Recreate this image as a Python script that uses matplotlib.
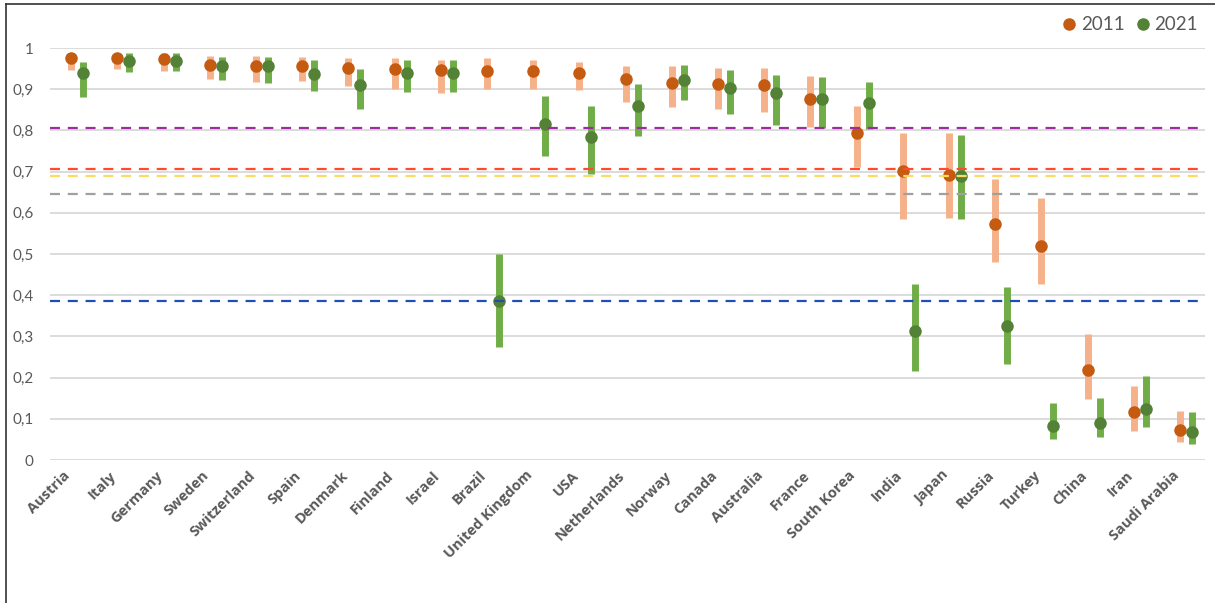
import numpy as np
import matplotlib
matplotlib.use('Agg')
import matplotlib.pyplot as plt
from matplotlib.lines import Line2D

countries = ["Austria", "Italy", "Germany", "Sweden", "Switzerland", "Spain", "Denmark",
             "Finland", "Israel", "Brazil", "United Kingdom", "USA", "Netherlands", "Norway",
             "Canada", "Australia", "France", "South Korea", "India", "Japan", "Russia",
             "Turkey", "China", "Iran", "Saudi Arabia"]

# 2011: punto, minimo, maximo
v2011 = [0.976, 0.975, 0.973, 0.959, 0.957, 0.957, 0.951, 0.948, 0.947, 0.945, 0.944, 0.939, 0.924,
         0.914, 0.913, 0.909, 0.876, 0.794, 0.701, 0.692, 0.572, 0.519, 0.218, 0.116, 0.074]
lo2011 = [0.947, 0.948, 0.944, 0.925, 0.917, 0.920, 0.908, 0.900, 0.890, 0.900, 0.900, 0.898, 0.870,
          0.856, 0.851, 0.844, 0.809, 0.710, 0.584, 0.587, 0.480, 0.427, 0.147, 0.070, 0.044]
hi2011 = [0.988, 0.988, 0.989, 0.981, 0.981, 0.979, 0.975, 0.975, 0.971, 0.975, 0.972, 0.967, 0.956,
          0.956, 0.951, 0.951, 0.932, 0.860, 0.793, 0.793, 0.681, 0.637, 0.305, 0.180, 0.119]

# 2021
v2021 = [0.940, 0.968, 0.968, 0.957, 0.957, 0.938, 0.910, 0.939, 0.939, 0.386, 0.816, 0.783, 0.859,
         0.922, 0.902, 0.890, 0.876, 0.867, 0.313, 0.690, 0.325, 0.083, 0.091, 0.123, 0.068]
lo2021 = [0.881, 0.942, 0.943, 0.922, 0.914, 0.896, 0.851, 0.894, 0.894, 0.275, 0.738, 0.694, 0.786,
          0.874, 0.840, 0.812, 0.807, 0.803, 0.217, 0.585, 0.233, 0.050, 0.057, 0.081, 0.039]
hi2021 = [0.966, 0.987, 0.989, 0.979, 0.979, 0.970, 0.950, 0.972, 0.971, 0.500, 0.883, 0.859, 0.912,
          0.959, 0.947, 0.935, 0.929, 0.918, 0.427, 0.790, 0.421, 0.138, 0.150, 0.204, 0.117]

# lineas de referencia
ref_vals = [0.807, 0.706, 0.689, 0.645, 0.387]
ref_cols = ["#9B2D9F", "#FF4B2B", "#FFD966", "#A0A0A0", "#1F4EB4"]

yticks = [0, 0.1, 0.2, 0.3, 0.4, 0.5, 0.6, 0.7, 0.8, 0.9, 1]
ylabels = ["0", "0,1", "0,2", "0,3", "0,4", "0,5", "0,6", "0,7", "0,8", "0,9", "1"]

x = np.arange(len(countries))
x1 = x - 0.04
x2 = x + 0.22

fig = plt.figure(figsize=(12.15, 6.03), dpi=100)
ax = fig.add_axes([50/1215, 1-460/603, 1155/1215, 412/603])

ax.vlines(x1, lo2011, hi2011, colors="#F5B28A", lw=5, zorder=2)
ax.plot(x1, v2011, 'o', color="#C55A11", ms=8, label="2011", zorder=3)
ax.vlines(x2, lo2021, hi2021, colors="#70AD47", lw=5, zorder=2)
ax.plot(x2, v2021, 'o', color="#538135", ms=8, label="2021", zorder=3)

for val, col in zip(ref_vals, ref_cols):
    ax.axhline(val, color=col, lw=1.6, dashes=(4.5, 3.5), zorder=4)

ax.set_xlim(-0.5, len(countries)-0.5)
ax.set_ylim(0, 1)
ax.set_yticks(yticks)
ax.set_yticklabels(ylabels, fontsize=11, color="#595959", family="Lato")
ax.yaxis.grid(True, color="#D9D9D9", lw=1.3)
ax.set_axisbelow(True)
ax.tick_params(length=0)
ax.tick_params(axis='y', pad=12)
ax.tick_params(axis='x', pad=6)
ax.set_xticks(x)
ax.set_xticklabels(countries, rotation=45, ha='right', fontsize=10.5, fontweight='bold',
                   color="#595959", family="Open Sans")
for s in ax.spines.values():
    s.set_visible(False)

fig.legend(loc='center right', bbox_to_anchor=(1198/1215, 1-25/603), ncol=2, frameon=False,
           prop={'family': 'Lato', 'size': 13.5}, labelcolor="#595959", handlelength=0.6,
           handletextpad=0.3, columnspacing=0.7, borderpad=0, borderaxespad=0)

# marco
fig.add_artist(Line2D([6/1215, 6/1215], [0, 1-4/603], color="#333333", lw=1.2))
fig.add_artist(Line2D([6/1215, 1], [1-4/603, 1-4/603], color="#333333", lw=1.2))

plt.savefig("out.png", dpi=100)
